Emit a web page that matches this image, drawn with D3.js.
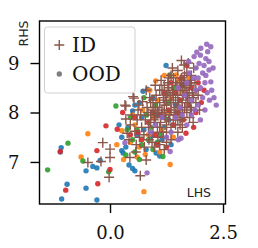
<!DOCTYPE html>
<html>
<head>
<meta charset="utf-8">
<script src="https://cdn.jsdelivr.net/npm/d3@7"></script>
<style>
  body { margin: 0; background: #fff; }
  svg { display: block; }
</style>
</head>
<body>
<div id="container"></div>
<script>
// ID points (brown plus)
var idPoints = [
  [0.35,8.13],[0.33,8.15],[0.35,7.87],[0.38,7.58],[0.44,7.09],[0.51,8.32],[0.53,8.29],[0.45,7.75],[0.48,7.95],[0.42,7.45],
  [0.72,8.22],[0.67,6.72],[0.55,7.62],[0.6,7.85],[0.62,8.05],[0.58,7.35],[0.65,7.5],[0.68,7.95],[0.7,7.7],[0.64,8.15],[0.57,7.2],
  [0.80,7.04],[0.75,7.55],[0.78,7.85],[0.82,8.1],[0.85,7.7],[0.88,8.3],[0.8,8.45],[0.86,7.45],[0.9,7.95],[0.76,7.3],[0.84,8.0],[0.9,8.2],
  [0.95,7.6],[0.98,7.85],[1.0,8.1],[1.02,8.35],[1.05,7.7],[1.08,8.0],[1.0,8.55],[0.95,8.25],[1.1,8.2],[1.06,7.5],[0.93,7.4],[1.1,8.45],[1.04,7.95],
  [1.12,7.8],[1.15,8.05],[1.18,8.3],[1.2,8.55],[1.22,7.9],[1.25,8.15],[1.28,8.4],[1.15,7.6],[1.3,8.7],[1.25,7.75],[1.2,8.0],[1.28,8.6],[1.13,8.65],[1.22,8.25],
  [1.32,7.95],[1.35,8.2],[1.38,8.45],[1.4,8.7],[1.42,8.0],[1.45,8.3],[1.48,8.55],[1.35,7.7],[1.5,8.85],[1.4,7.85],[1.33,8.35],[1.46,8.1],[1.5,7.6],[1.38,8.9],
  [1.52,8.2],[1.55,8.45],[1.58,8.7],[1.6,8.05],[1.62,8.35],[1.65,8.6],[1.64,8.96],[1.55,7.9],[1.68,8.2],[1.7,8.8],[1.6,7.7],[1.66,8.45],[1.58,9.05],
  [1.72,8.3],[1.75,8.55],[1.78,8.1],[1.8,8.75],[1.82,8.4],[1.85,8.9],[1.76,7.9],[1.88,8.6],[1.9,8.2],[1.73,9.0],[1.84,7.8],
  [1.1,7.35],[1.25,7.4],[1.35,7.45],[0.98,7.3],[1.2,7.25],[1.95,8.35],[1.98,8.05],
  [-0.16,7.39],[0.0,7.26],[0.0,7.09],[-0.49,6.99],[-0.20,7.01],[-0.02,6.69],
  [1.15,7.95],[1.2,8.15],[1.25,8.35],[1.3,7.85],[1.3,8.5],[1.35,8.05],[1.4,8.25],[1.4,8.4],[1.45,7.95],[1.45,8.6],
  [1.5,8.15],[1.5,8.35],[1.55,8.0],[1.55,8.6],[1.6,8.25],[1.6,8.5],[1.65,8.1],[1.65,8.75],[1.7,8.35],[1.7,8.5],
  [1.75,8.2],[1.75,8.4],[1.8,8.6],[1.8,8.05],[1.85,8.3],[1.9,8.45],[1.45,7.75],[1.55,7.75],[1.6,7.85],[1.7,8.0],
  [1.05,8.1],[1.1,7.7],[1.0,7.9],[0.95,8.05],[0.9,7.8],[1.15,8.45],[1.35,8.75],[1.25,7.6],[1.18,7.5],[1.5,7.85],
  [1.62,8.65],[1.78,8.65]
];

// OOD points, one array per dataset
var blueOOD = [
  [0.50,8.03],[0.20,7.75],[0.26,7.50],[-1.08,7.29],[0.26,7.23],[0.29,7.18],[-0.22,7.03],[-0.38,6.91],[-0.29,6.88],[-0.53,6.82],
  [0.42,6.94],[0.50,6.87],[0.55,6.82],[-0.95,6.55],[-0.53,6.47],[-1.07,6.25],[-0.29,6.23],[1.02,7.18],[1.10,7.12],[1.24,8.95],
  [0.73,8.43],[0.83,8.47],[0.6,7.55],[0.7,7.9],[0.8,7.25],[0.9,7.5],[1.0,7.95],[1.15,7.45],[1.3,7.85],[1.45,8.15],
  [0.65,8.2],[0.4,7.7],[0.35,7.3],[1.2,7.7],[0.75,7.65],[0.55,8.15],[1.35,7.35],[0.95,8.3],[-1.1,7.2]
];
var orangeOOD = [
  [0.26,7.63],[-0.49,7.57],[-0.64,7.10],[1.33,6.95],[0.75,6.40],[1.01,8.64],[1.46,8.76],
  [0.45,7.4],[0.55,7.75],[0.65,7.3],[0.72,8.05],[0.85,7.55],[0.95,7.9],[1.05,8.25],[1.15,7.65],[1.25,8.0],[1.35,8.3],
  [1.5,8.65],[1.6,8.4],[1.75,8.7],[0.3,7.05],[0.6,7.1],[1.4,7.5],[0.88,8.45],[1.2,8.75],[0.5,7.95],[1.1,7.2],[0.15,7.35],[0.78,7.15]
];
var greenOOD = [
  [0.13,8.13],[-0.93,7.38],[0.35,7.14],[-0.60,7.02],[-1.38,6.84],[-0.03,6.80],[1.17,7.11],[1.32,8.76],
  [0.5,7.45],[0.6,7.65],[0.7,7.35],[0.8,7.95],[0.9,7.7],[1.0,8.15],[1.1,7.55],[1.2,7.9],[1.3,8.2],[1.4,8.5],
  [0.55,7.2],[0.45,7.9],[0.85,7.45],[1.05,7.4],[0.75,8.3],[1.6,8.55],[0.38,7.65],[0.95,7.25],[0.65,7.05]
];
var redOOD = [
  [0.28,8.00],[-0.09,7.73],[0.16,7.66],[-1.10,7.21],[-0.29,7.23],[0.0,6.85],[-0.98,6.43],[-0.27,6.56],[1.68,7.58],[1.57,8.69],
  [0.55,7.9],[0.7,7.45],[0.85,7.8],[1.0,7.55],[1.1,7.95],[1.2,8.4],[1.3,8.05],[1.4,7.75],[1.45,8.4],[1.55,8.25],
  [1.62,7.85],[1.75,8.15],[1.8,8.5],[1.9,8.0],[1.95,8.6],[2.02,8.2],[1.7,8.95],[1.5,8.0],[1.35,8.6],[0.95,8.0],
  [0.62,7.6],[1.05,7.35],[1.25,7.3],[1.85,7.7],[2.08,8.45],[1.6,8.55],[0.45,7.55]
];
var purpleOOD = [
  [0.33,7.39],[1.33,7.21],[0.82,6.78],[1.51,7.45],[1.57,7.48],[2.01,9.30],[2.14,9.38],[2.23,9.33],[2.16,9.23],[2.12,9.09],
  [2.00,9.16],[1.86,9.13],[1.74,9.03],[1.97,8.99],[2.19,9.03],[2.19,8.86],[2.23,8.62],[2.25,8.45],[2.35,8.15],
  [1.9,8.9],[2.05,8.8],[2.1,8.6],[1.95,8.7],[2.0,8.5],[2.15,8.4],[2.05,8.3],[1.9,8.45],[1.85,8.7],[2.2,8.25],[1.95,8.15],
  [2.1,8.05],[1.8,8.25],[1.7,8.6],[1.75,8.8],[1.65,8.35],[1.55,8.1],[1.45,7.9],[1.6,7.95],[1.35,7.6],[1.25,7.5],
  [1.7,7.75],[1.8,7.95],[2.0,7.85],[1.15,7.9],[1.0,7.75],[0.9,7.6],[2.12,8.75],[2.28,8.9],[1.92,9.22],[2.08,8.95],
  [1.88,8.05],[1.5,8.5],[2.3,8.3]
];

var xTicks = [0.0, 2.5];
var yTicks = [7, 8, 9];
var legendLabels = ["ID", "OOD"];

var width = 258, height = 248;
var plot = { left: 39.5, right: 225.5, top: 21, bottom: 204 };

var svg = d3.select("#container")
  .append("svg")
  .attr("width", width)
  .attr("height", height);

// Escalas
var x = d3.scaleLinear().domain([-1.56, 2.555]).range([plot.left, plot.right]);
var y = d3.scaleLinear().domain([6.15, 9.85]).range([plot.bottom, plot.top]);

svg.append("clipPath").attr("id", "clip")
  .append("rect")
  .attr("x", plot.left).attr("y", plot.top)
  .attr("width", plot.right - plot.left).attr("height", plot.bottom - plot.top);

var marks = svg.append("g").attr("clip-path", "url(#clip)");

function dots(data, color) {
  marks.append("g").selectAll("circle")
    .data(data)
    .enter().append("circle")
    .attr("cx", function(d) { return x(d[0]) })
    .attr("cy", function(d) { return y(d[1]) })
    .attr("r", 2.7)
    .attr("fill", color)
    .attr("opacity", 0.9);
}

function pluses(data, color) {
  var s = 5;
  marks.append("g").selectAll("path")
    .data(data)
    .enter().append("path")
    .attr("d", function(d) {
      var cx = x(d[0]), cy = y(d[1]);
      return "M" + (cx - s) + "," + cy + "H" + (cx + s) + "M" + cx + "," + (cy - s) + "V" + (cy + s);
    })
    .attr("stroke", color)
    .attr("stroke-width", 1.4)
    .attr("fill", "none");
}

dots(blueOOD, "#1f77b4");
dots(orangeOOD, "#ff7f0e");
dots(greenOOD, "#2ca02c");
dots(redOOD, "#d62728");
pluses(idPoints, "#8c564b");
dots(purpleOOD, "#9467bd");

// Eixos
var xAxis = svg.append("g")
  .attr("transform", "translate(0," + plot.bottom + ")")
  .call(d3.axisBottom(x).tickValues(xTicks).tickSize(9).tickPadding(13).tickFormat(d3.format(".1f")));

var yAxis = svg.append("g")
  .attr("transform", "translate(" + plot.left + ",0)")
  .call(d3.axisLeft(y).tickValues(yTicks).tickSize(9).tickPadding(11).tickFormat(d3.format("d")));

[xAxis, yAxis].forEach(function(a) {
  a.select(".domain").remove();
  a.selectAll(".tick line").attr("stroke", "#000").attr("stroke-width", 1.4);
  a.selectAll(".tick text")
    .attr("fill", "#111")
    .attr("font-family", "DejaVu Serif")
    .attr("font-size", 18);
});
yAxis.selectAll(".tick text").attr("dy", "0.35em");

// Moldura
svg.append("rect")
  .attr("x", plot.left).attr("y", plot.top)
  .attr("width", plot.right - plot.left).attr("height", plot.bottom - plot.top)
  .attr("fill", "none")
  .attr("stroke", "#000")
  .attr("stroke-width", 1.4);

// Rótulos dos eixos
svg.append("text")
  .text("RHS")
  .attr("transform", "translate(28," + 33.5 + ") rotate(-90)")
  .attr("text-anchor", "middle")
  .attr("font-family", "DejaVu Sans")
  .attr("font-size", 12.5)
  .attr("fill", "#222");

svg.append("text")
  .text("LHS")
  .attr("x", 211)
  .attr("y", 196.5)
  .attr("text-anchor", "end")
  .attr("font-family", "DejaVu Sans")
  .attr("font-size", 12.5)
  .attr("fill", "#222");

// Legenda
var legend = svg.append("g");
legend.append("rect")
  .attr("x", 44.5).attr("y", 27)
  .attr("width", 90.5).attr("height", 66)
  .attr("rx", 3)
  .attr("fill", "#fff")
  .attr("fill-opacity", 0.8)
  .attr("stroke", "#d0d0d0")
  .attr("stroke-width", 1);

legend.append("path")
  .attr("d", "M" + 54.3 + ",45H" + 64.3 + "M" + 59.3 + ",40V50")
  .attr("stroke", "#8c564b")
  .attr("stroke-width", 1.4);
legend.append("circle")
  .attr("cx", 59.3).attr("cy", 74)
  .attr("r", 2.7)
  .attr("fill", "#7f7f7f");

legend.selectAll(".legend-label")
  .data(legendLabels)
  .enter().append("text")
  .attr("class", "legend-label")
  .text(function(d) { return d })
  .attr("x", 72)
  .attr("y", function(d, i) { return 52 + i * 29 })
  .attr("font-family", "DejaVu Serif")
  .attr("font-size", 20)
  .attr("fill", "#111");
</script>
</body>
</html>
